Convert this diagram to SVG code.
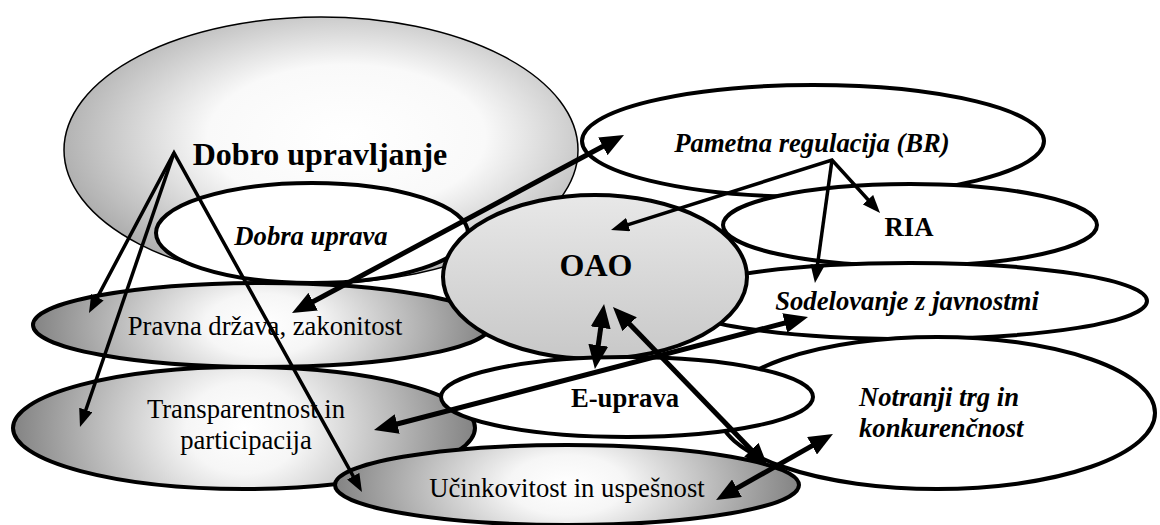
<svg xmlns="http://www.w3.org/2000/svg" width="1160" height="525" viewBox="0 0 1160 525">
<defs>
  <radialGradient id="gDobro" cx="0.55" cy="0.45" r="0.6">
    <stop offset="0" stop-color="#ffffff"/>
    <stop offset="0.45" stop-color="#f9f9f9"/>
    <stop offset="1" stop-color="#a6a6a6"/>
  </radialGradient>
  <radialGradient id="gSide" cx="0.5" cy="0.5" r="0.5" gradientTransform="translate(0.5,0.5) scale(1,3) translate(-0.5,-0.5)">
    <stop offset="0" stop-color="#ffffff"/>
    <stop offset="0.25" stop-color="#f6f6f6"/>
    <stop offset="1" stop-color="#838383"/>
  </radialGradient>
  <linearGradient id="gOAO" x1="0" y1="0" x2="0" y2="1">
    <stop offset="0" stop-color="#e8e8e8"/>
    <stop offset="1" stop-color="#c8c8c8"/>
  </linearGradient>
  <marker id="hk" markerUnits="userSpaceOnUse" markerWidth="24" markerHeight="20" refX="12" refY="10" orient="auto-start-reverse">
    <path d="M0,0 L24,10 L0,20 z" fill="#000"/>
  </marker>
  <marker id="hn" markerUnits="userSpaceOnUse" markerWidth="18" markerHeight="14" refX="9" refY="7" orient="auto-start-reverse">
    <path d="M0,0 L18,7 L0,14 z" fill="#000"/>
  </marker>
</defs>
<style>
  .e{stroke:#000;stroke-width:4}
  .w{fill:#fff}
  .s{fill:url(#gSide)}
  .t{font-family:'Liberation Serif','Times New Roman',serif;font-size:26.67px;fill:#000}
  .b{font-weight:bold}
  .i{font-style:italic}
  .c{text-anchor:middle}
  .k{stroke:#000;stroke-width:5;fill:none}
  .n{stroke:#000;stroke-width:3.5;fill:none;stroke-linejoin:miter;stroke-miterlimit:10}
</style>

<g id="dobro-upravljanje">
  <ellipse cx="321" cy="150" rx="257" ry="133" fill="url(#gDobro)" stroke="#000" stroke-width="1.5"/>
  <text class="t b c" x="320" y="165" style="font-size:32px">Dobro upravljanje</text>
</g>
<g id="pametna-regulacija">
  <ellipse class="e w" cx="813" cy="141" rx="231" ry="56"/>
  <text class="t b i c" x="812" y="152">Pametna regulacija (BR)</text>
</g>
<g id="ria">
  <ellipse class="e w" cx="910" cy="225" rx="187" ry="41"/>
  <text class="t b c" x="909" y="236">RIA</text>
</g>
<g id="dobra-uprava">
  <ellipse class="e w" cx="312" cy="233" rx="156" ry="50"/>
  <text class="t b i c" x="311" y="245">Dobra uprava</text>
</g>
<g id="pravna-drzava">
  <ellipse class="e s" cx="262" cy="325" rx="229" ry="42"/>
  <text class="t c" x="265" y="335">Pravna država, zakonitost</text>
</g>
<g id="transparentnost">
  <ellipse class="e s" cx="244" cy="428" rx="231" ry="61"/>
  <text class="t c" x="246" y="418">Transparentnost in</text>
  <text class="t c" x="246" y="449">participacija</text>
</g>
<g id="sodelovanje">
  <ellipse class="e w" cx="910" cy="301" rx="237" ry="38"/>
  <text class="t b i c" x="907" y="310">Sodelovanje z javnostmi</text>
</g>
<g id="notranji-trg">
  <ellipse class="e w" cx="937" cy="413" rx="218" ry="76"/>
  <text class="t b i" x="859" y="406">Notranji trg in</text>
  <text class="t b i" x="859" y="437">konkurenčnost</text>
</g>
<g id="oao">
  <ellipse class="e" cx="595" cy="277" rx="152" ry="82" fill="url(#gOAO)"/>
  <text class="t b c" x="596" y="276" style="font-size:32px">OAO</text>
</g>
<g id="e-uprava">
  <ellipse class="e w" cx="627" cy="397" rx="186" ry="40"/>
  <text class="t b c" x="625" y="407">E-uprava</text>
</g>
<g id="ucinkovitost">
  <ellipse class="e s" cx="567" cy="485" rx="232" ry="40"/>
  <text class="t c" x="567" y="497">Učinkovitost in uspešnost</text>
</g>

<g id="connectors">
  <path class="n" d="M93.2,305.1 L174,153 L357.6,484.1" marker-start="url(#hn)" marker-end="url(#hn)"/>
  <path class="n" d="M174,153 L82.9,418.5" marker-end="url(#hn)"/>
  <path class="k" d="M302.6,307.3 L613.4,140.7" marker-start="url(#hk)" marker-end="url(#hk)"/>
  <path class="n" d="M619.6,227.3 L832,160 L874,206.3" marker-start="url(#hn)" marker-end="url(#hn)"/>
  <path class="n" d="M832,160 L816.2,274.1" marker-end="url(#hn)"/>
  <path class="k" d="M602.4,315.9 L596.6,357.1" marker-start="url(#hk)" marker-end="url(#hk)"/>
  <path class="k" d="M621.3,315.6 L759.7,458.4" marker-start="url(#hk)" marker-end="url(#hk)"/>
  <path class="k" d="M726.5,494.1 L822.5,439.9" marker-start="url(#hk)" marker-end="url(#hk)"/>
  <path class="k" d="M385.6,427 L796.4,320" marker-start="url(#hk)" marker-end="url(#hk)"/>
</g>
</svg>
